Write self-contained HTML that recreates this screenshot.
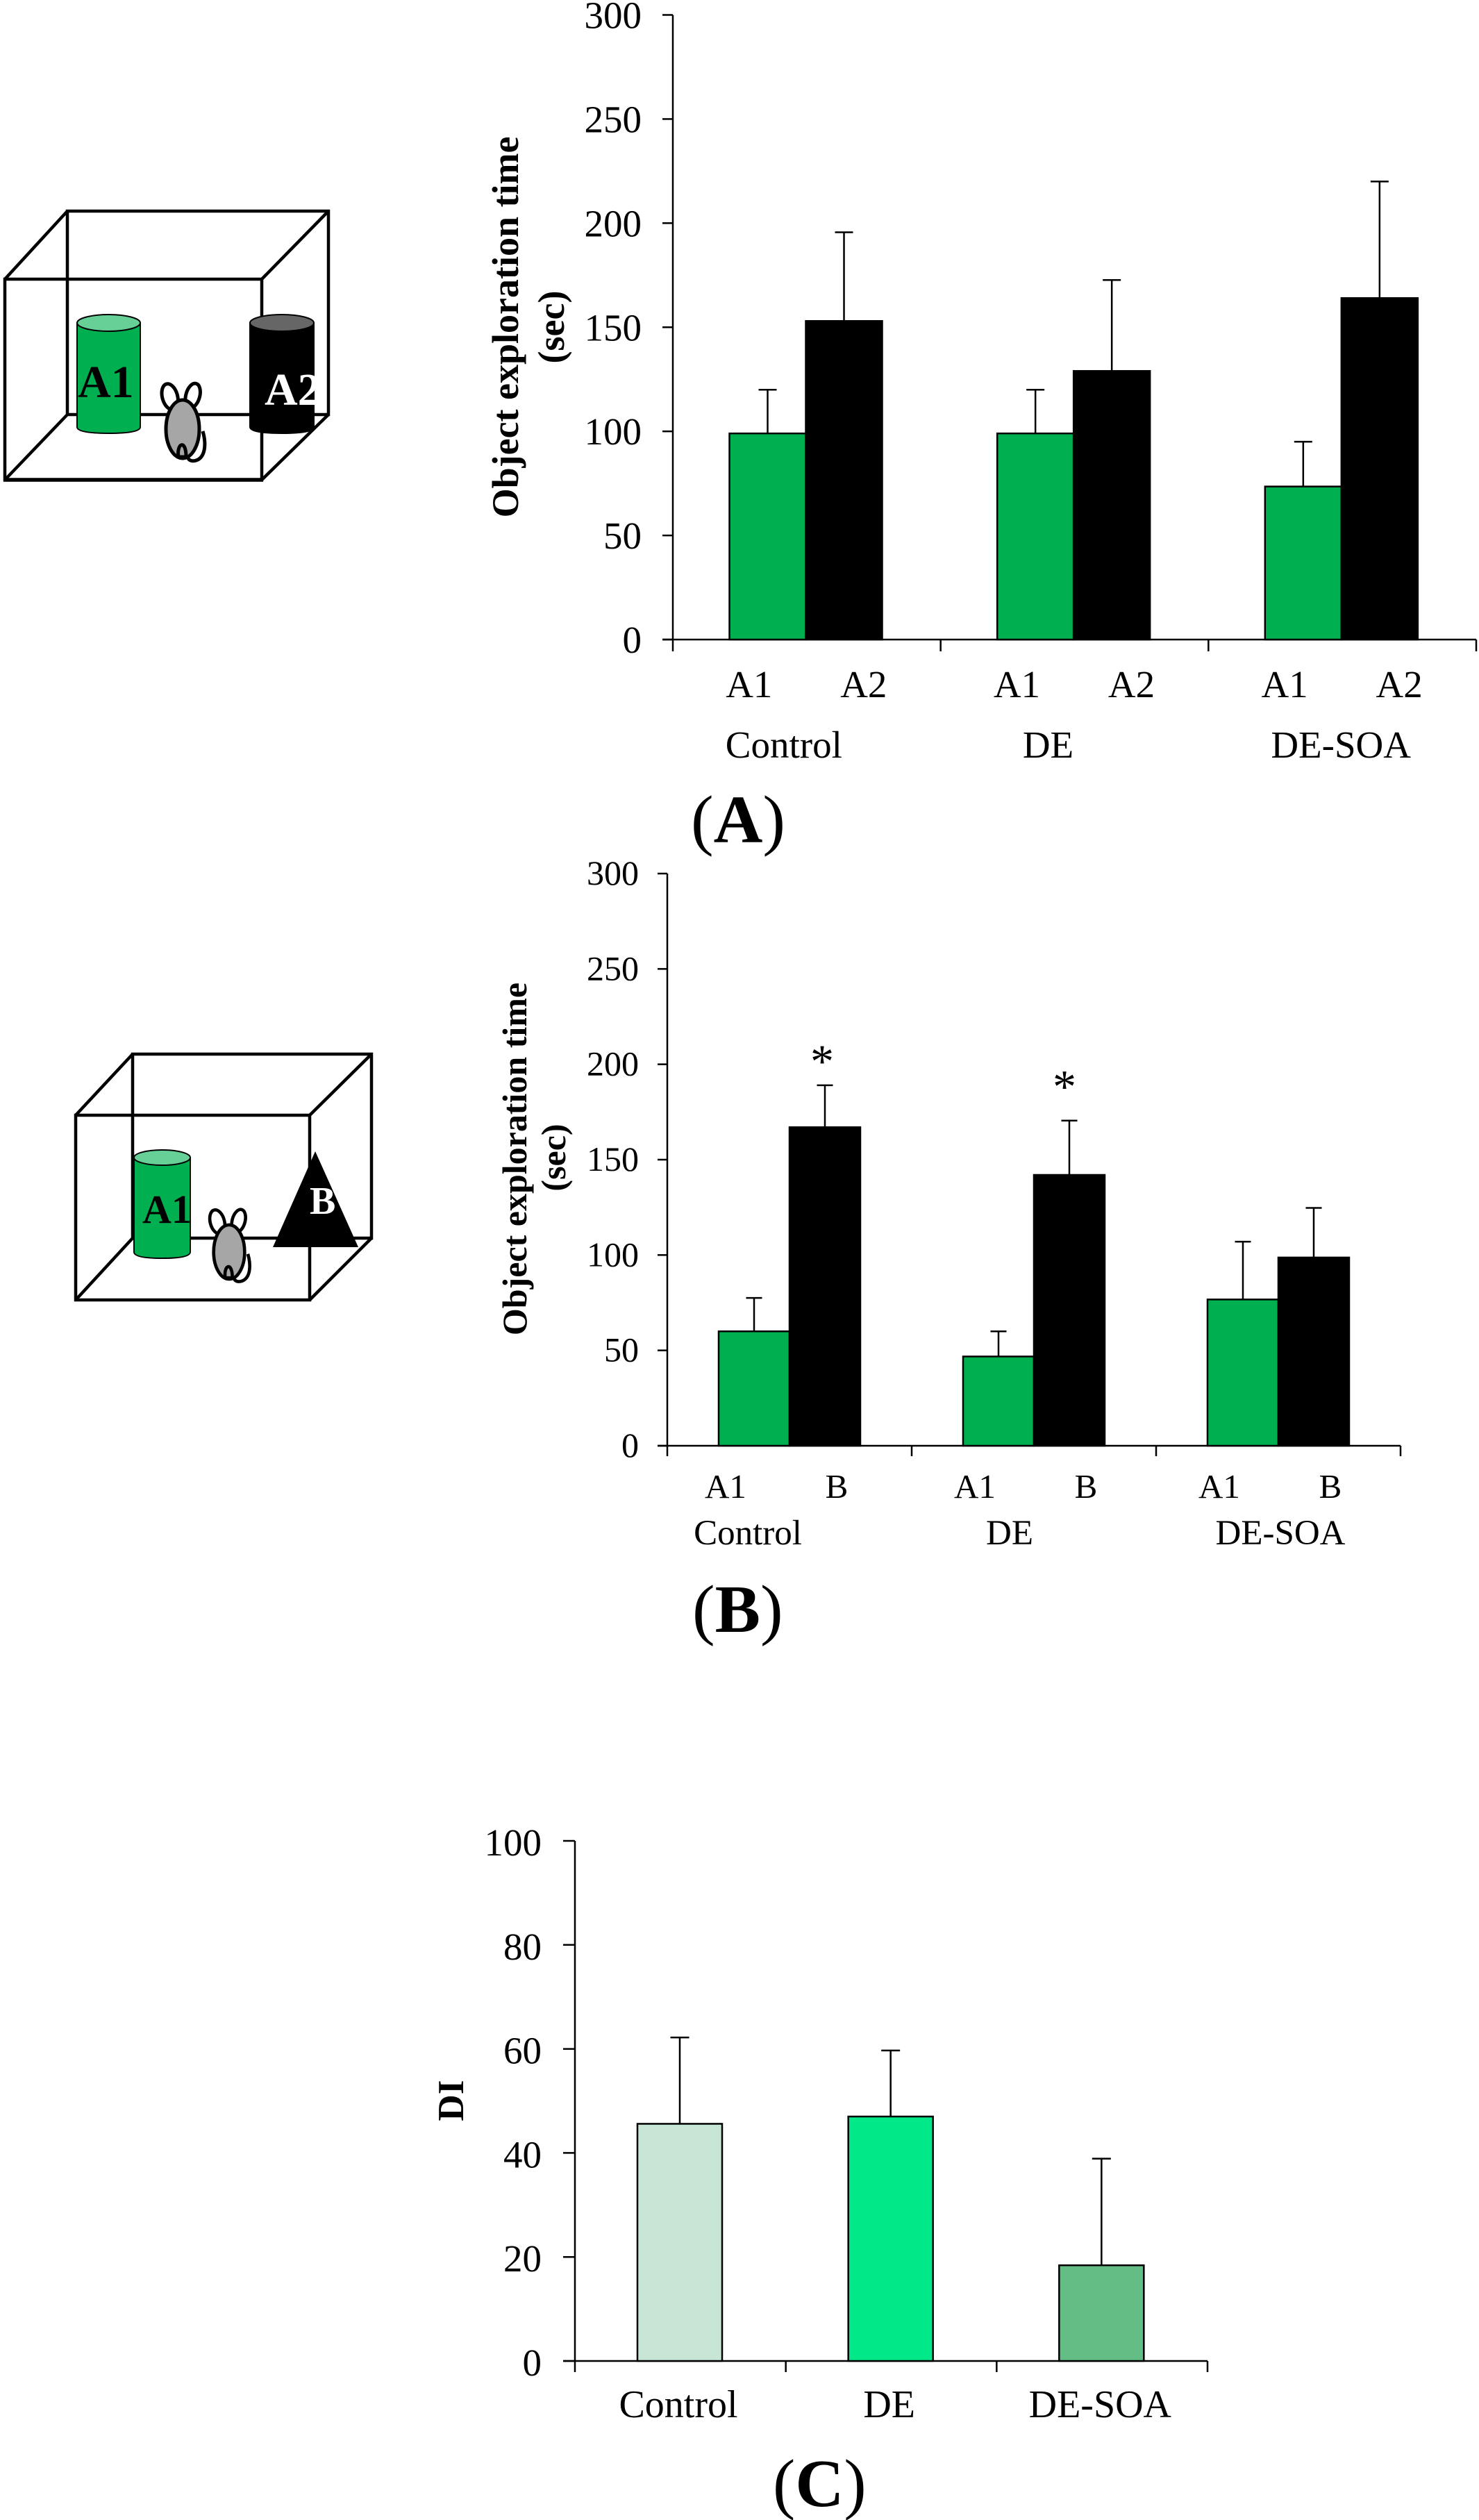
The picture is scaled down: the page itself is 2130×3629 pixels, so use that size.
<!DOCTYPE html>
<html lang="en">
<head>
<meta charset="utf-8">
<title>Object exploration time and discrimination index</title>
<style>
html,body{margin:0;padding:0;background:#fff;}
svg{display:block;}
text{font-family:"Liberation Serif",serif;fill:#000;}
</style>
</head>
<body>
<svg id="fig" xmlns="http://www.w3.org/2000/svg" width="2130" height="3629" viewBox="0 0 2130 3629">
<rect x="0" y="0" width="2130" height="3629" fill="#fff"/>
<defs>
<g id="mouse">
<ellipse cx="-18.3" cy="-46.7" rx="11" ry="19" transform="rotate(-15 -18.3 -46.7)" fill="#fff" stroke="#000" stroke-width="5"/>
<ellipse cx="14.7" cy="-48.3" rx="10" ry="18" transform="rotate(15 14.7 -48.3)" fill="#fff" stroke="#000" stroke-width="5"/>
<path d="M29 3 C34 20 33 38 22 44 C16 47 10 46 8 42" fill="#fff" stroke="#000" stroke-width="5"/>
<ellipse cx="0" cy="0" rx="24" ry="42" fill="#a6a6a6" stroke="#000" stroke-width="5"/>
<path d="M-6 40 C-9 20 5 14 5 40 Z" fill="#a6a6a6" stroke="#000" stroke-width="5"/>
</g>
</defs>

<g fill="none" stroke="#000" stroke-width="4.5">
<rect x="97" y="304" width="376" height="293"/>
<path d="M7 402 L97 304 M377 402 L473 304 M7 691 L97 597 M377 691 L473 597"/>
<rect x="7" y="402" width="370" height="289"/>
<path d="M5 691 H379" stroke-width="5.5"/>
<g stroke-width="2">
<path d="M111 465 V615 Q111 624 156.500 624 Q202 624 202 615 V465 Z" fill="#00b050" stroke="#000"/>
<ellipse cx="156.500" cy="465" rx="45.500" ry="12" fill="#66d097" stroke="#000"/>
</g>
<g stroke-width="2">
<path d="M360 465 V615 Q360 624 406 624 Q452 624 452 615 V465 Z" fill="#000" stroke="#000"/>
<ellipse cx="406" cy="465" rx="46" ry="12" fill="#666" stroke="#000"/>
</g>
<use href="#mouse" transform="translate(263 618)"/>
</g>
<text x="112" y="572" font-size="66" font-weight="bold">A1</text>
<text x="381" y="583" font-size="66" font-weight="bold" style="fill:#fff">A2</text>

<g fill="none" stroke="#000" stroke-width="4.5">
<rect x="191" y="1518" width="344" height="265"/>
<path d="M109 1606 L191 1518 M446 1606 L535 1518 M109 1872 L191 1783 M446 1872 L535 1783"/>
<rect x="109" y="1606" width="337" height="266"/>
<g stroke-width="2">
<path d="M193 1667 V1803 Q193 1812 233.500 1812 Q274 1812 274 1803 V1667 Z" fill="#00b050" stroke="#000"/>
<ellipse cx="233.500" cy="1667" rx="40.500" ry="11" fill="#66d097" stroke="#000"/>
</g>
<path d="M454 1658 L516 1796 H393 Z" fill="#000" stroke="none"/>
<use href="#mouse" transform="translate(330 1803) scale(0.93)"/>
</g>
<text x="205" y="1761" font-size="58" font-weight="bold">A1</text>
<text x="446" y="1748" font-size="56" font-weight="bold" style="fill:#fff">B</text>

<g id="charts"></g>

<text x="995" y="1213" font-size="98">(<tspan font-weight="bold">A</tspan>)</text>
<text x="997" y="2350" font-size="98">(<tspan font-weight="bold">B</tspan>)</text>
<text x="1113" y="3609" font-size="97">(<tspan font-weight="bold">C</tspan>)</text>
</svg>

<script>
// ---- chart data ----
const groupNames = ['Control', 'DE', 'DE-SOA'];
const objectNamesA = ['A1', 'A2'];
const objectNamesB = ['A1', 'B'];
const timeTicks = [0, 50, 100, 150, 200, 250, 300];
const diTicks = [0, 20, 40, 60, 80, 100];

const a1TimeA = [99, 99, 73.5];
const a1ErrorA = [21, 21, 21.5];
const a2TimeA = [153, 129, 164];
const a2ErrorA = [42.6, 43.7, 56];

const a1TimeB = [60, 46.8, 76.7];
const a1ErrorB = [17.5, 13.2, 30.3];
const bTimeB = [167, 142, 98.7];
const bErrorB = [22, 28.5, 26];
const significantB = ['*', '*', ''];

const diValues = [45.6, 47, 18.4];
const diErrors = [16.6, 12.7, 20.5];
const diColors = ['#c8e6d5', '#00e887', '#63bd84'];

// ---- drawing ----
const NS = 'http://www.w3.org/2000/svg';
const root = document.getElementById('charts');

function make(parent, tag, attrs, content) {
  const el = document.createElementNS(NS, tag);
  for (const k in attrs) el.setAttribute(k, attrs[k]);
  if (content !== undefined) el.textContent = content;
  parent.appendChild(el);
  return el;
}

function linearScale(dMax, top, base) {
  return v => base - (v / dMax) * (base - top);
}

function drawAxes(g, f, ticks, dMax, nGroups) {
  const y = linearScale(dMax, f.top, f.base);
  const groupW = (f.right - f.left) / nGroups;
  const yAxis = make(g, 'line', {x1: f.left, x2: f.left, y1: f.top, y2: f.base, stroke: '#000', 'stroke-width': 2.5});
  
  
  const xAxis = make(g, 'line', {x1: f.left - f.tickL, x2: f.right, y1: f.base, y2: f.base, stroke: '#000', 'stroke-width': 2.5});
  
  
  ticks.forEach(t => {
    const mark = make(g, 'line', {x1: f.left - f.tickL, x2: f.left, y1: y(t), y2: y(t), stroke: '#000', 'stroke-width': 2.5});
    
    
    const label = make(g, 'text', {x: f.labelRight, y: y(t) + f.labelDy, 'font-size': f.tickFont, 'text-anchor': 'end'}, String(t));
    
    
  });
  for (let i = 0; i <= nGroups; i++) {
    const px = f.left + i * groupW;
    const mark = make(g, 'line', {x1: px, x2: px, y1: f.base, y2: f.base + f.tickD, stroke: '#000', 'stroke-width': 2.5});
    
    
  }
  return {y, groupW};
}

function drawBar(g, f, yScale, x, w, value, error, fill, capW, name) {
  const px = x + w / 2;
  const errTop = yScale(value + error);
  const stem = make(g, 'line', {x1: px, x2: px, y1: yScale(value), y2: errTop, stroke: '#000', 'stroke-width': 2.5});
  
  
  const cap = make(g, 'line', {x1: px - capW / 2, x2: px + capW / 2, y1: errTop, y2: errTop, stroke: '#000', 'stroke-width': 2.5});
  
  
  const bar = make(g, 'rect', {x: x, y: yScale(value), width: w, height: f.base - yScale(value), fill: fill, stroke: '#000', 'stroke-width': 2.5});
  
  
}

function drawYTitle(g, text, x, y, size) {
  const t = make(g, 'text', {transform: 'translate(' + x + ' ' + y + ') rotate(-90)', 'font-size': size, 'font-weight': 'bold', 'text-anchor': 'middle'}, text);
  
  
}

function drawPairChart(name, f, objects, s1, e1, s2, e2) {
  const g = make(root, 'g', {});
  
  
  const ax = drawAxes(g, f, timeTicks, 300, groupNames.length);
  groupNames.forEach((group, i) => {
    const start = f.left + i * ax.groupW + f.barOffset;
    const mid = f.left + (i + 0.5) * ax.groupW;
    drawBar(g, f, ax.y, start, f.barW, s1[i], e1[i], '#00b050', f.capW, 'bar-' + objects[0].toLowerCase() + '-' + group.toLowerCase());
    drawBar(g, f, ax.y, start + f.barW, f.barW, s2[i], e2[i], '#000', f.capW, 'bar-' + objects[1].toLowerCase() + '-' + group.toLowerCase());
    objects.forEach((o, j) => {
      const dx = (j === 0 ? f.objLeft : f.objRight)[i];
      const t = make(g, 'text', {x: mid + dx, y: f.objBase, 'font-size': f.objFont, 'text-anchor': 'middle'}, o);
      
      
    });
    const gl = make(g, 'text', {x: mid + f.groupNudge[i], y: f.groupBase, 'font-size': f.groupFont, 'text-anchor': 'middle'}, group);
    
    
  });
  return {g, ax};
}

// Panel A
const panelA = drawPairChart('chart-a', {
  left: 969, right: 2126, top: 21.5, base: 921, tickL: 15, tickD: 17,
  labelRight: 924, labelDy: 19, tickFont: 55,
  barOffset: 81.5, barW: 110, capW: 26,
  objBase: 1004, objFont: 55, objLeft: [-83, -83, -83], objRight: [82, 82, 82],
  groupBase: 1091, groupFont: 55, groupNudge: [-33, -38, -2]
}, objectNamesA, a1TimeA, a1ErrorA, a2TimeA, a2ErrorA);
drawYTitle(panelA.g, 'Object exploration time', 746, 471, 54);
drawYTitle(panelA.g, '(sec)', 812, 471, 54);

// Panel B
const fB = {
  left: 961, right: 2017, top: 1258, base: 2082, tickL: 14, tickD: 15,
  labelRight: 920, labelDy: 16, tickFont: 50,
  barOffset: 74, barW: 102, capW: 23,
  objBase: 2157, objFont: 49, objLeft: [-92, -85, -85], objRight: [68, 75, 75],
  groupBase: 2224, groupFont: 51, groupNudge: [-60, -35, 3],
  starDx: [-4, -7, 0], starGap: [12, 26, 0]
};
const panelB = drawPairChart('chart-b', fB, objectNamesB, a1TimeB, a1ErrorB, bTimeB, bErrorB);
drawYTitle(panelB.g, 'Object exploration time', 758, 1669, 50);
drawYTitle(panelB.g, '(sec)', 814, 1667, 50);
significantB.forEach((mark, i) => {
  if (!mark) return;
  const px = fB.left + i * panelB.ax.groupW + fB.barOffset + fB.barW * 1.5;
  const py = panelB.ax.y(bTimeB[i] + bErrorB[i]) - fB.starGap[i];
  const star = make(panelB.g, 'text', {x: px + fB.starDx[i], y: py, 'font-size': 68, 'text-anchor': 'middle'}, mark);
  
  
});

// Panel C
const fC = {
  left: 828, right: 1739, top: 2651, base: 3400, tickL: 17, tickD: 16,
  labelRight: 780, labelDy: 21, tickFont: 55,
  barOffset: 90, barW: 122, capW: 27
};
const gC = make(root, 'g', {});


const axC = drawAxes(gC, fC, diTicks, 100, groupNames.length);
groupNames.forEach((group, i) => {
  const start = fC.left + i * axC.groupW + fC.barOffset;
  drawBar(gC, fC, axC.y, start, fC.barW, diValues[i], diErrors[i], diColors[i], fC.capW, 'bar-di-' + group.toLowerCase());
  const t = make(gC, 'text', {x: start + fC.barW / 2 - 2, y: 3481, 'font-size': 56, 'text-anchor': 'middle'}, group);
  
  
});
drawYTitle(gC, 'DI', 667, 3025, 53);
</script>
</body>
</html>
